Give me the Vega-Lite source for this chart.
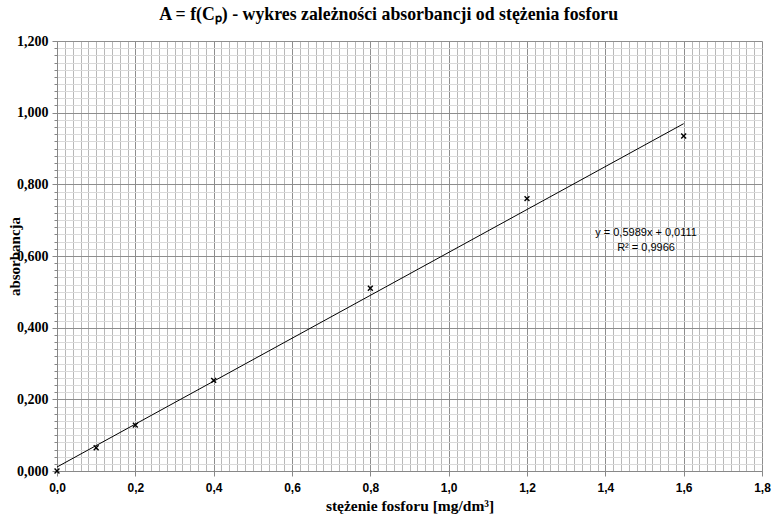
{
  "$schema": "https://vega.github.io/schema/vega-lite/v6.json",
  "width": 705,
  "height": 430,
  "autosize": "none",
  "padding": {"left": 57, "top": 41, "right": 13, "bottom": 52},
  "background": "white",
  "title": {
    "text": "A = f(Cₚ) - wykres zależności absorbancji od stężenia fosforu",
    "font": "Liberation Serif",
    "fontSize": 17.8,
    "fontWeight": "bold",
    "color": "black",
    "anchor": "middle",
    "frame": "bounds",
    "offset": 10
  },
  "config": {"view": {"stroke": null}},
  "datasets": {
    "trend": [
      {"x": 0, "y": 0.0111},
      {"x": 1.6, "y": 0.9693}
    ],
    "points": [
      {"x": 0.0, "y": 0.0},
      {"x": 0.1, "y": 0.065},
      {"x": 0.2, "y": 0.128},
      {"x": 0.4, "y": 0.253},
      {"x": 0.8, "y": 0.510},
      {"x": 1.2, "y": 0.760},
      {"x": 1.6, "y": 0.935}
    ],
    "label": [
      {"x": 1.504, "y": 0.664, "t": "y = 0,5989x + 0,0111"},
      {"x": 1.504, "y": 0.622, "t": "R² = 0,9966"}
    ]
  },
  "layer": [
    {
      "data": {"name": "trend"},
      "mark": {"type": "line", "color": "black", "strokeWidth": 1},
      "encoding": {
        "x": {
          "field": "x", "type": "quantitative",
          "scale": {"domain": [0, 1.8], "nice": false, "zero": false},
          "axis": {
            "orient": "bottom", "tickCount": 90, "labels": false, "domain": false,
            "ticks": false, "title": null, "grid": true, "gridColor": "#b8b8b8", "gridWidth": 1
          }
        },
        "y": {
          "field": "y", "type": "quantitative",
          "scale": {"domain": [0, 1.2], "nice": false, "zero": false},
          "axis": {
            "orient": "left", "tickCount": 60, "labels": false, "domain": false,
            "ticks": true, "tickSize": 3, "tickColor": "#888888", "title": null,
            "grid": true, "gridColor": "#dadada", "gridWidth": 1
          }
        }
      }
    },
    {
      "data": {"name": "points"},
      "mark": {
        "type": "point",
        "shape": "M-1,-1L1,1M1,-1L-1,1",
        "filled": false,
        "stroke": "black",
        "strokeWidth": 1.4,
        "size": 24,
        "opacity": 1
      },
      "encoding": {
        "x": {
          "field": "x", "type": "quantitative",
          "scale": {"domain": [0, 1.8], "nice": false, "zero": false},
          "axis": {
            "orient": "bottom",
            "values": [0, 0.2, 0.4, 0.6, 0.8, 1.0, 1.2, 1.4, 1.6, 1.8],
            "labelExpr": "replace(format(datum.value, '.1f'), '.', ',')",
            "labelFlush": false,
            "labelFont": "Liberation Sans", "labelFontSize": 12, "labelFontWeight": "bold",
            "labelColor": "black", "labelPadding": 6,
            "tickColor": "#888888", "tickSize": 5,
            "domainColor": "#888888",
            "grid": true, "gridColor": "#8e8e8e",
            "title": "stężenie fosforu [mg/dm³]",
            "titleFont": "Liberation Serif", "titleFontSize": 15.5, "titleFontWeight": "bold",
            "titleColor": "black", "titlePadding": 5
          }
        },
        "y": {
          "field": "y", "type": "quantitative",
          "scale": {"domain": [0, 1.2], "nice": false, "zero": false},
          "axis": {
            "orient": "left",
            "values": [0, 0.2, 0.4, 0.6, 0.8, 1.0, 1.2],
            "labelExpr": "replace(format(datum.value, '.3f'), '.', ',')",
            "labelFlush": false,
            "labelFont": "Liberation Serif", "labelFontSize": 14, "labelFontWeight": "bold",
            "labelColor": "black", "labelPadding": 4,
            "tickColor": "#888888", "tickSize": 5,
            "domainColor": "#888888",
            "grid": true, "gridColor": "#8e8e8e",
            "title": "absorbancja",
            "titleFont": "Liberation Serif", "titleFontSize": 15, "titleFontWeight": "bold",
            "titleColor": "black", "titleX": -43, "titleBaseline": "middle"
          }
        }
      }
    },
    {
      "data": {"name": "label"},
      "mark": {"type": "text", "font": "Liberation Sans", "fontSize": 11, "color": "black", "align": "center", "baseline": "middle"},
      "encoding": {
        "x": {"field": "x", "type": "quantitative", "axis": null},
        "y": {"field": "y", "type": "quantitative", "axis": null},
        "text": {"field": "t"}
      }
    }
  ],
  "resolve": {"axis": {"x": "independent", "y": "independent"}}
}
